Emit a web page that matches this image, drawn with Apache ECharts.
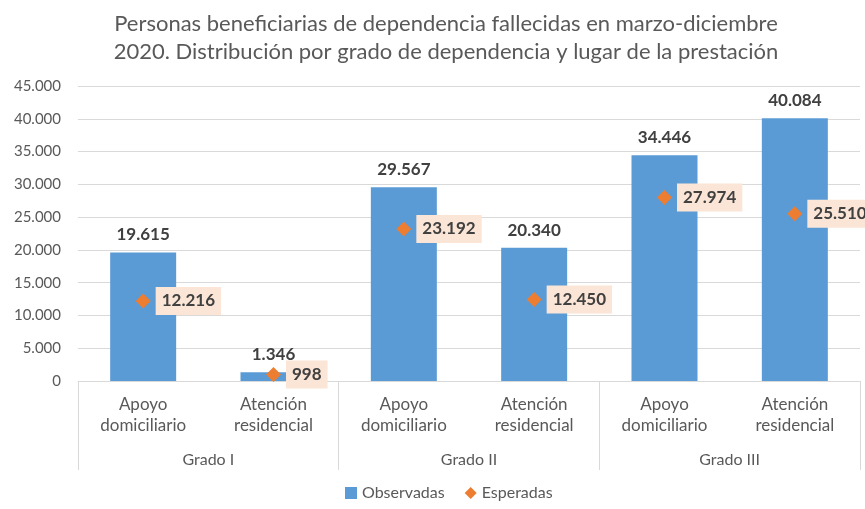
<!DOCTYPE html>
<html>
<head>
<meta charset="utf-8">
<script src="https://cdn.jsdelivr.net/npm/echarts@6/dist/echarts.min.js"></script>
<style>
  html, body { margin: 0; padding: 0; background: #fff; }
  #chart { width: 865px; height: 509px; }
</style>
</head>
<body>
<div id="chart"></div>
<script>
var categories = ['Apoyo\ndomiciliario', 'Atención\nresidencial', 'Apoyo\ndomiciliario', 'Atención\nresidencial', 'Apoyo\ndomiciliario', 'Atención\nresidencial'];
var groups = ['Grado I', 'Grado II', 'Grado III'];
var observadas = [19615, 1346, 29567, 20340, 34446, 40084];
var esperadas = [12216, 998, 23192, 12450, 27974, 25510];

function fmt(v) {
    return String(v).replace(/\B(?=(\d{3})+(?!\d))/g, '.');
}

var font = 'Lato';
var myChart = echarts.init(document.getElementById('chart'));
var option = {
    backgroundColor: '#fff',
    textStyle: { fontFamily: font },
    title: {
        text: 'Personas beneficiarias de dependencia fallecidas en marzo-diciembre\n2020. Distribución por grado de dependencia y lugar de la prestación',
        left: 441,
        top: 5,
        textAlign: 'center',
        textStyle: {
            fontFamily: font,
            fontSize: 22,
            fontWeight: 'normal',
            color: '#595959',
            lineHeight: 28
        }
    },
    legend: {
        bottom: 3,
        left: 340,
        itemWidth: 12,
        itemHeight: 12,
        itemGap: 20,
        textStyle: { fontFamily: font, fontSize: 16, color: '#595959' },
        data: [
            { name: 'Observadas', icon: 'rect' },
            { name: 'Esperadas', icon: 'diamond' }
        ]
    },
    grid: { left: 78, right: 5, top: 86, bottom: 128 },
    xAxis: [
        {
            type: 'category',
            data: categories,
            axisLine: { lineStyle: { color: '#D9D9D9' } },
            axisTick: { show: false },
            axisLabel: {
                interval: 0,
                margin: 13,
                fontFamily: font,
                fontSize: 17,
                lineHeight: 21,
                color: '#595959'
            }
        },
        {
            type: 'category',
            data: groups,
            position: 'bottom',
            axisLine: { show: false },
            axisTick: { show: true, length: 89, lineStyle: { color: '#D9D9D9' } },
            axisLabel: {
                interval: 0,
                margin: 71,
                fontFamily: font,
                fontSize: 16,
                color: '#595959'
            }
        }
    ],
    yAxis: {
        type: 'value',
        min: 0,
        max: 45000,
        interval: 5000,
        axisLine: { show: false },
        axisTick: { show: false },
        splitLine: { lineStyle: { color: '#D9D9D9' } },
        axisLabel: {
            margin: 17,
            fontFamily: font,
            fontSize: 15,
            color: '#595959',
            formatter: function (v) { return fmt(v); }
        }
    },
    series: [
        {
            name: 'Observadas',
            type: 'bar',
            data: observadas,
            barWidth: 66,
            itemStyle: { color: '#5B9BD5' },
            label: {
                show: true,
                position: 'top',
                distance: 9,
                fontFamily: font,
                fontSize: 17,
                fontWeight: 'bold',
                color: '#404040',
                formatter: function (p) { return fmt(p.value); }
            },
            z: 2
        },
        {
            name: 'Esperadas',
            type: 'scatter',
            data: esperadas,
            symbol: 'diamond',
            symbolSize: 15,
            itemStyle: { color: '#ED7D31', opacity: 1 },
            label: {
                show: true,
                position: 'right',
                distance: 5,
                backgroundColor: '#FBE5D6',
                padding: [6, 6, 5, 6],
                fontFamily: font,
                fontSize: 17,
                fontWeight: 'bold',
                color: '#404040',
                formatter: function (p) { return fmt(p.value); }
            },
            z: 3
        }
    ]
};
myChart.setOption(option);
window.addEventListener('resize', function () {
    myChart.resize();
});
</script>
</body>
</html>
